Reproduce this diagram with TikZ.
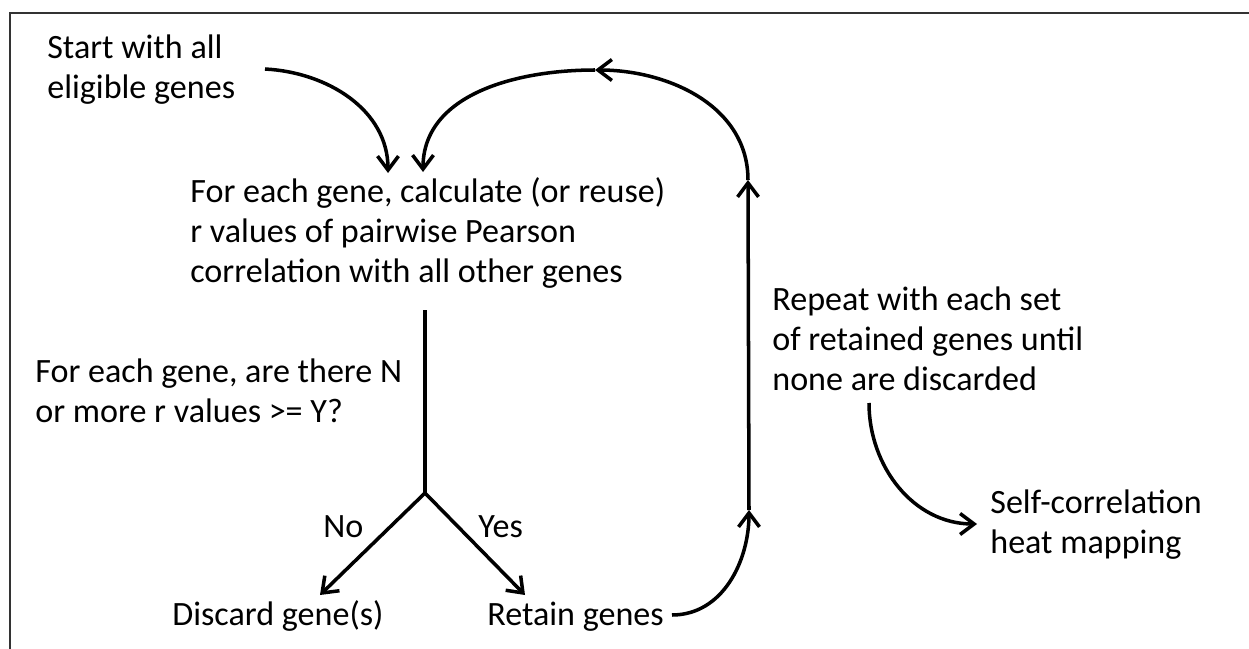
\documentclass[tikz,border=0pt]{standalone}
\usepackage{fontspec}
\setmainfont{Carlito}
\usepackage{tikz}
\usetikzlibrary{positioning,arrows.meta}
\tikzset{
  txt/.style={anchor=base west, inner sep=0pt, align=left,
              font=\fontsize{19.4pt}{22.7pt}\selectfont},
  flow/.style={-{Straight Barb[length=2.8mm,width=4.2mm]}, line width=2pt},
  stem/.style={line width=2pt},
  frame/.style={line width=1.4pt, draw=black!80},
}
\begin{document}
\begin{tikzpicture}[x=0.02cm, y=-0.02cm]
  \useasboundingbox (0,0) rectangle (1249,649);
  \draw[frame] (10,649) -- (10,13) -- (1249,13);

  \node[txt] (start) at (47,98) {Start with all\\eligible genes};
  \node[txt] (calc) at (190,282) {For each gene, calculate (or reuse)\\r values of pairwise Pearson\\correlation with all other genes};
  \node[txt] (test) at (35,422) {For each gene, are there N\\or more r values >= Y?};
  \node[txt] (discard) at (172,625) {Discard gene(s)};
  \node[txt] (retain) at (487,625) {Retain genes};
  \node[txt] (repeat) at (772,390) {Repeat with each set\\of retained genes until\\none are discarded};
  \node[txt] (heat) at (990,553) {Self-correlation\\heat mapping};
  \node[txt] (no) at (323,537) {No};
  \node[txt] (yes) at (478,537) {Yes};

  % free ends of the connectors
  \coordinate (s1) at (265,69);
  \coordinate (c1) at (388,173);
  \coordinate (c2) at (423,172);
  \coordinate (top) at (425,310);
  \coordinate (fork) at (425,493);
  \coordinate (d1) at (320,595);
  \coordinate (r1) at (525,595);
  \coordinate (r2) at (672,615);
  \coordinate (lp1) at (749,510);
  \coordinate (lp2) at (748,180);
  \coordinate (lp3) at (595,70);
  \coordinate (h1) at (869,403);
  \coordinate (h2) at (977,524);

  \draw[flow] (s1) to[out=-3, in=90] (c1);
  \draw[stem] (top) -- (fork);
  \draw[flow] (fork) -- (d1);
  \draw[flow] (fork) -- (r1);
  \draw[flow] (r2) to[out=0, in=-90] (lp1);
  \draw[flow] (lp1) -- (lp2);
  \draw[flow] (lp2) to[out=90, in=0] (lp3);
  \draw[flow] (lp3) to[out=180, in=90] (c2);
  \draw[flow] (h1) to[out=-90, in=180] (h2);

\end{tikzpicture}
\end{document}
